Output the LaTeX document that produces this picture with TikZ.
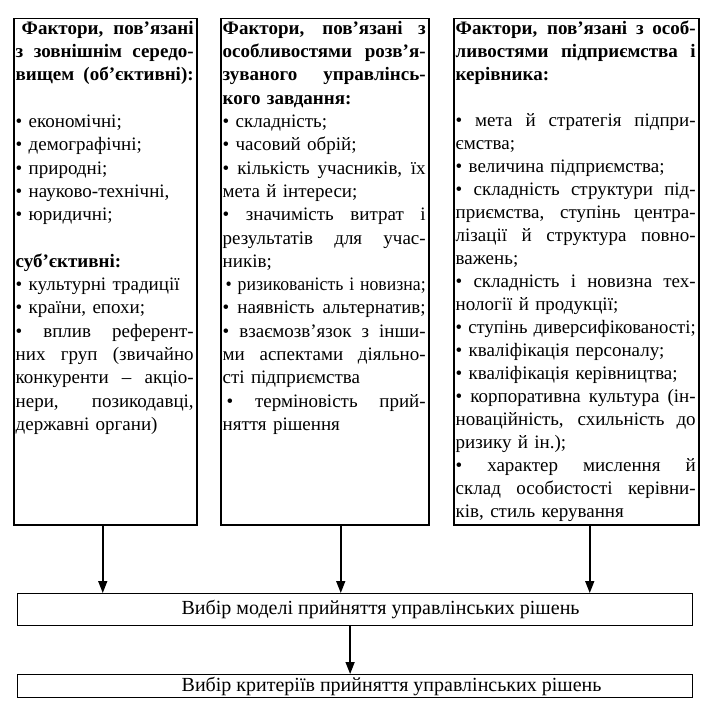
\documentclass[tikz,border=0pt]{standalone}
\usepackage{fontspec}
\usepackage{graphicx}
\setmainfont{Liberation Serif}
\usetikzlibrary{arrows.meta,positioning}
\newsavebox{\flinebox}
\newcommand{\fline}[2][s]{\sbox{\flinebox}{#2}%
  \ifdim\wd\flinebox>\linewidth
    \resizebox{\linewidth}{\ht\flinebox}{\usebox{\flinebox}}%
  \else\makebox[\linewidth][#1]{\if s#1\spaceskip=\fontdimen2\font plus 1fil
    \xspaceskip=\spaceskip\fi#2}\fi\par}

\begin{document}
\begin{tikzpicture}[x=1pt,y=-1pt,
  col/.style={draw,line width=1.5pt,anchor=north west,minimum height=506},
  txt/.style={anchor=north west,inner xsep=2.5pt,inner ysep=3pt,
              font=\fontsize{19}{23.3}\selectfont},
  box/.style={draw,line width=1.2pt,anchor=north west,minimum width=675,
              inner sep=0pt,font=\fontsize{20}{23}\selectfont},
  arr/.style={line width=1.6pt,-{Triangle[length=12pt,width=9pt]}}]
  \useasboundingbox (0,0) rectangle (708,708);
  \node (c1) [col,minimum width=183] at (13,18) {};
  \node (c2) [col,minimum width=208] at (220,18) {};
  \node (c3) [col,minimum width=245] at (453,18) {};
  \node (t1) [txt,text width=178] at (c1.north west) {%
    {\bfseries
    \fline{\hspace*{6pt}Фактори, пов'язані}
    \fline{з зовнішнім середо-}
    \fline{вищем (об'єктивні):}}
    \fline[l]{}
    \fline[l]{• економічні;}
    \fline[l]{• демографічні;}
    \fline[l]{• природні;}
    \fline[l]{• науково-технічні,}
    \fline[l]{• юридичні;}
    \fline[l]{}
    {\bfseries\fline[l]{суб'єктивні:}}
    \fline[l]{• культурні традиції}
    \fline[l]{• країни, епохи;}
    \fline{• вплив референт-}
    \fline{них груп (звичайно}
    \fline{конкуренти – акціо-}
    \fline{нери, позикодавці,}
    \fline[l]{державні органи)}};
  \node (t2) [txt,text width=203] at (c2.north west) {%
    {\bfseries
    \fline{Фактори, пов'язані з}
    \fline{особливостями розв'я-}
    \fline{зуваного управлінсь-}
    \fline[l]{кого завдання:}}
    \fline[l]{• складність;}
    \fline[l]{• часовий обрій;}
    \fline{• кількість учасників, їх}
    \fline[l]{мета й інтереси;}
    \fline{• значимість витрат і}
    \fline{результатів для учас-}
    \fline[l]{ників;}
    \fline{\hspace*{3pt}• ризикованість і новизна;}
    \fline{• наявність альтернатив;}
    \fline{• взаємозв'язок з інши-}
    \fline{ми аспектами діяльно-}
    \fline[l]{сті підприємства}
    \fline{\hspace*{4pt}• терміновість прий-}
    \fline[l]{няття рішення}};
  \node (t3) [txt,text width=240,font=\fontsize{19}{23}\selectfont]
    at (c3.north west) {%
    {\bfseries
    \fline{Фактори, пов'язані з особ-}
    \fline{ливостями підприємства і}
    \fline[l]{керівника:}}
    \fline[l]{}
    \fline{• мета й стратегія підпри-}
    \fline[l]{ємства;}
    \fline[l]{• величина підприємства;}
    \fline{• складність структури під-}
    \fline{приємства, ступінь центра-}
    \fline{лізації й структура повно-}
    \fline[l]{важень;}
    \fline{• складність і новизна тех-}
    \fline[l]{нології й продукції;}
    \fline{• ступінь диверсифікованості;}
    \fline[l]{• кваліфікація персоналу;}
    \fline[l]{• кваліфікація керівництва;}
    \fline{• корпоративна культура (ін-}
    \fline{новаційність, схильність до}
    \fline[l]{ризику й ін.);}
    \fline{• характер мислення й}
    \fline{склад особистості керівни-}
    \fline[l]{ків, стиль керування}};
  \node (m) [box,minimum height=32] at (17,593)
    {\hspace*{51pt}Вибір моделі прийняття управлінських рішень};
  \node (k) [box,minimum height=23] at (17,674)
    {\hspace*{73pt}Вибір критеріїв прийняття управлінських рішень};
  \coordinate (a1) at ([xshift=-2.5pt]c1.south);
  \coordinate (a2) at ([xshift=16pt]c2.south);
  \coordinate (a3) at ([xshift=13.5pt]c3.south);
  \coordinate (a4) at ([xshift=-5pt]m.south);
  \foreach \a in {a1,a2,a3}
    \draw[arr] (\a) -- (\a |- m.north);
  \draw[arr] (a4) -- (a4 |- k.north);
\end{tikzpicture}
\end{document}
